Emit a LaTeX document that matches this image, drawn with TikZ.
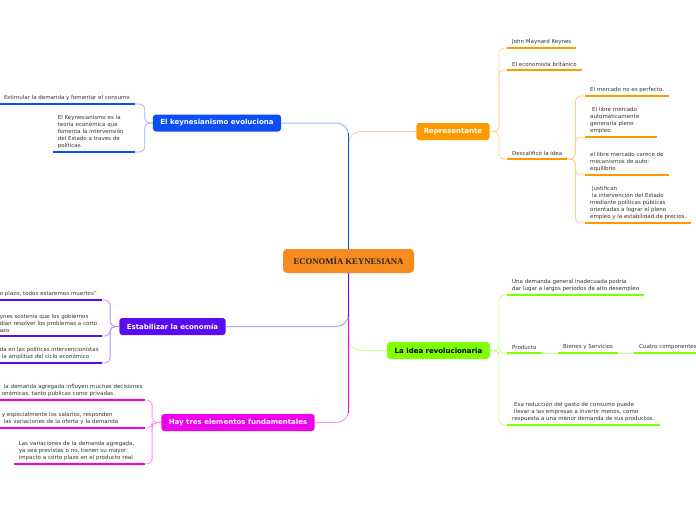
\documentclass[tikz,border=0pt]{standalone}
\usepackage{fontspec}
\setmainfont{DejaVu Sans}
\newfontfamily\titlefont{Liberation Serif}
\usetikzlibrary{calc}
\definecolor{rootc}{HTML}{F68B1F}
\definecolor{bluec}{HTML}{0B4FF5}
\definecolor{orangec}{HTML}{FF9900}
\definecolor{purplec}{HTML}{5A0CF0}
\definecolor{greenc}{HTML}{80FF00}
\definecolor{magc}{HTML}{EE00EE}
\definecolor{leaftext}{HTML}{333333}

\begin{document}
\begin{tikzpicture}[
    x=1pt, y=-1pt,
    root/.style={rectangle, fill=rootc, rounded corners=4pt, minimum width=131pt, minimum height=24pt, font=\titlefont\bfseries\fontsize{8.7}{10}\selectfont, text=black!85},
    topic/.style={rectangle, fill=#1, rounded corners=3pt, minimum height=17pt, inner xsep=7.5pt, font=\bfseries\fontsize{7}{8}\selectfont, text=white},
    leaf/.style={font=\fontsize{5.5}{7}\selectfont, text=leaftext, align=left, inner xsep=5pt, inner ysep=3pt},
    under/.style={line width=2.5pt, draw=#1},
    link/.style={line width=0.8pt, draw=#1!45, rounded corners=5pt},
    trunk/.style={line width=1.6pt, draw=#1},
    branch/.style={line width=1pt, draw=#1!40, rounded corners=12pt}
]
    \useasboundingbox (0,0) rectangle (696,520);

    \node[root] (root) at (348.5,261) {ECONOMÍA KEYNESIANA};
    \node[topic=bluec] (evol) at (217,123) {El keynesianismo evoluciona};
    \node[topic=orangec] (rep) at (453,131.5) {Representante};
    \node[topic=purplec] (estab) at (172.5,326.5) {Estabilizar la economía};
    \node[topic=greenc, text=black] (idea) at (438.5,350.5) {La idea revolucionaria};
    \node[topic=magc] (hay) at (238,422.5) {Hay tres elementos fundamentales};

    \draw[branch=orangec] (root.north) |- (rep.west);
    \draw[branch=greenc] (root.south) |- (idea.west);
    \draw[branch=magc] (root.south) |- (hay.east);
    \draw[trunk=magc] (root.south) -- ($(root.south |- hay.east)+(0,-10)$);
    \draw[branch=purplec] (root.south) |- (estab.east);
    \draw[trunk=purplec] (root.south) -- ($(root.south |- estab.east)+(0,-10)$);
    \draw[branch=bluec] (root.north) |- (evol.east);
    \draw[trunk=bluec] (root.north) -- ($(root.north |- evol.east)+(0,10)$);

    \node[leaf, anchor=south east] (estim) at (135,104) {Estimular la demanda y fomentar el consumo};
    \node[leaf, anchor=south east, text width=72pt] (keyn) at (135,152) {El Keynesianismo es la\\teoría económica que\\fomenta la intervensión\\del Estado a traves de\\políticas.};
    \draw[under=bluec] (estim.south west) -- (estim.south east);
    \draw[under=bluec] (keyn.south west) -- (keyn.south east);
    \draw[link=bluec] (evol.west) -- ++(-8,0) |- (estim.south east);
    \draw[link=bluec] (evol.west) -- ++(-8,0) |- (keyn.south east);

    \node[leaf, anchor=south west] (jmk) at (507,48) {John Maynard Keynes};
    \node[leaf, anchor=south west] (ecob) at (507,70) {El economista británico};
    \node[leaf, anchor=south west] (desc) at (507,159) {Descalificó la idea};
    \draw[under=orangec] (jmk.south west) -- (jmk.south east);
    \draw[under=orangec] (ecob.south west) -- (ecob.south east);
    \draw[under=orangec] (desc.south west) -- (desc.south east);
    \draw[link=orangec] (rep.east) -- ++(9,0) |- (jmk.south west);
    \draw[link=orangec] (rep.east) -- ++(9,0) |- (ecob.south west);
    \draw[link=orangec] (rep.east) -- ++(9,0) |- (desc.south west);

    \node[leaf, anchor=south west] (merc) at (585,96) {El mercado no es perfecto.};
    \node[leaf, anchor=south west, text width=62pt] (libre) at (585,137) {\hspace*{2pt}El libre mercado\\automáticamente\\generaría pleno\\empleo};
    \node[leaf, anchor=south west] (carece) at (585,175) {el libre mercado carece de\\mecanismos de auto-\\equilibrio};
    \node[leaf, anchor=south west] (justif) at (585,223) {\hspace*{2pt}justifican\\\hspace*{2pt}la intervención del Estado\\mediante políticas públicas\\orientadas a lograr el pleno\\empleo y la estabilidad de precios.};
    \draw[under=orangec] (merc.south west) -- (merc.south east);
    \draw[under=orangec] (libre.south west) -- (libre.south east);
    \draw[under=orangec] (carece.south west) -- (carece.south east);
    \draw[under=orangec] (justif.south west) -- (justif.south east);
    \draw[link=orangec] (desc.south east) -- ++(8,0) |- (merc.south west);
    \draw[link=orangec] (desc.south east) -- ++(8,0) |- (libre.south west);
    \draw[link=orangec] (desc.south east) -- ++(8,0) |- (carece.south west);
    \draw[link=orangec] (desc.south east) -- ++(8,0) |- (justif.south west);

    \node[leaf, anchor=south east, inner xsep=1pt, text width=101pt] (muertos) at (102,300) {o plazo, todos estaremos muertos”.};
    \node[leaf, anchor=south east, inner xsep=1pt, text width=101pt] (gobier) at (102,336) {ynes sostenía que los gobiernos\\dian resolver los problemas a corto\\azo};
    \node[leaf, anchor=south east, inner xsep=1pt, text width=101pt] (ciclo) at (102,363) {da en las políticas intervencionistas\\\hspace*{2pt}la amplitud del ciclo económico};
    \draw[under=purplec] (muertos.south west) -- (muertos.south east);
    \draw[under=purplec] (gobier.south west) -- (gobier.south east);
    \draw[under=purplec] (ciclo.south west) -- (ciclo.south east);
    \draw[link=purplec] (estab.west) -- ++(-9,0) |- (muertos.south east);
    \draw[link=purplec] (estab.west) -- ++(-9,0) |- (gobier.south east);
    \draw[link=purplec] (estab.west) -- ++(-9,0) |- (ciclo.south east);

    \node[leaf, anchor=south east, inner xsep=2pt, text width=141pt] (decis) at (145,400) {\hspace*{2pt}la demanda agregada influyen muchas decisiones\\onómicas, tanto públicas como privadas.};
    \node[leaf, anchor=south east, inner xsep=2pt, text width=141pt] (salar) at (145,428) {y especialmente los salarios, responden\\\hspace*{2pt}las variaciones de la oferta y la demanda};
    \node[leaf, anchor=south east, text width=121pt] (varia) at (145,464) {Las variaciones de la demanda agregada,\\ya sea previstas o no, tienen su mayor\\impacto a corto plazo en el producto real};
    \draw[under=magc] (decis.south west) -- (decis.south east);
    \draw[under=magc] (salar.south west) -- (salar.south east);
    \draw[under=magc] (varia.south west) -- (varia.south east);
    \draw[link=magc] (hay.west) -- ++(-9,0) |- (decis.south east);
    \draw[link=magc] (hay.west) -- ++(-9,0) |- (salar.south east);
    \draw[link=magc] (hay.west) -- ++(-9,0) |- (varia.south east);

    \node[leaf, anchor=south west] (demgen) at (507,295) {Una demanda general inadecuada podría\\dar lugar a largos periodos de alto desempleo};
    \node[leaf, anchor=south west] (prod) at (507,353) {Producto};
    \node[leaf, anchor=south west] (bienes) at (558,353) {Bienes y Servicios};
    \node[leaf, anchor=south west] (cuatro) at (634,353) {Cuatro componentes};
    \node[leaf, anchor=south west] (reduc) at (507,425) {\hspace*{2pt}Esa reducción del gasto de consumo puede\\\hspace*{2pt}llevar a las empresas a invertir menos, como\\respuesta a una menor demanda de sus productos.};
    \draw[under=greenc] (demgen.south west) -- (demgen.south east);
    \draw[under=greenc] (prod.south west) -- (prod.south east);
    \draw[under=greenc] (bienes.south west) -- (bienes.south east);
    \draw[under=greenc] (cuatro.south west) -- (cuatro.south east);
    \draw[under=greenc] (reduc.south west) -- (reduc.south east);
    \draw[link=greenc] (idea.east) -- ++(9,0) |- (demgen.south west);
    \draw[link=greenc] (idea.east) -- ++(9,0) |- (prod.south west);
    \draw[link=greenc] (idea.east) -- ++(9,0) |- (reduc.south west);
    \draw[link=greenc] (prod.south east) -- (bienes.south west);
    \draw[link=greenc] (bienes.south east) -- (cuatro.south west);
\end{tikzpicture}
\end{document}
